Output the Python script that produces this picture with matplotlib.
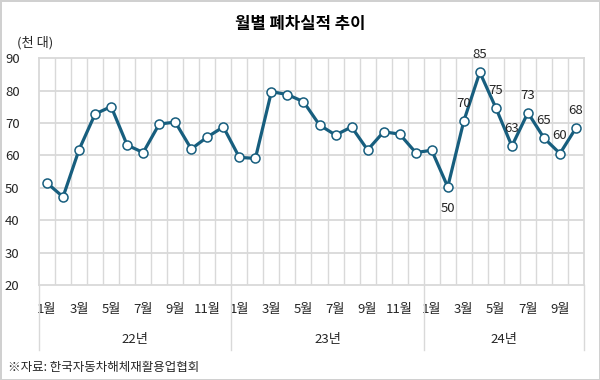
import matplotlib
matplotlib.use("Agg")
import matplotlib.pyplot as plt
import matplotlib.transforms as mtransforms
import numpy as np

plt.rcParams['font.family'] = ['Noto Sans CJK KR', 'DejaVu Sans']

# monthly scrapped vehicles (thousand units), Jan 2022 - Oct 2024
years = ["22년", "23년", "24년"]
months_per_year = [12, 12, 10]
values = [51.5, 47.2, 61.8, 72.8, 75.1, 63.2, 60.9, 69.7, 70.3, 62.0, 65.7, 68.8,
          59.4, 59.1, 79.7, 78.8, 76.6, 69.4, 66.3, 68.8, 61.7, 67.3, 66.6, 60.9,
          61.6, 50.3, 70.6, 85.7, 74.7, 62.9, 73.2, 65.4, 60.6, 68.5]
# data labels shown in the chart (index -> text)
label_idx = [25, 26, 27, 28, 29, 30, 31, 32, 33]
label_txt = ["50", "70", "85", "75", "63", "73", "65", "60", "68"]

line_color = "#175E7E"
grid_color = "#d9d9d9"
text_color = "#262626"

fig = plt.figure(figsize=(6, 3.8), dpi=100)
fig.patch.set_edgecolor("#d0d0d0")
fig.patch.set_linewidth(2)
ax = fig.add_axes([39 / 600, 1 - 285 / 380, 545 / 600, (285 - 58.3) / 380])

x = np.arange(len(values))
ax.plot(x, values, color=line_color, lw=2.3, marker="o", ms=6.5,
        mfc="white", mec=line_color, mew=1.1, zorder=3)

for i, t in zip(label_idx, label_txt):
    if t == "50":
        ax.annotate(t, (x[i], values[i]), xytext=(0, -11), textcoords="offset points",
                    ha="center", va="top", fontsize=9.5, color=text_color)
    else:
        ax.annotate(t, (x[i], values[i]), xytext=(0, 8), textcoords="offset points",
                    ha="center", va="bottom", fontsize=9.5, color=text_color)

ax.set_xlim(-0.5, len(values) - 0.5)
ax.set_ylim(20, 90)
ax.set_yticks(np.arange(20, 91, 10))
ax.tick_params(axis="y", length=0, pad=14, labelsize=9.5, labelcolor=text_color)

# month labels every other month
month_pos = []
month_lab = []
i = 0
for n in months_per_year:
    for m in range(1, n + 1):
        if m % 2 == 1:
            month_pos.append(i)
            month_lab.append(f"{m}월")
        i += 1
ax.set_xticks(month_pos)
ax.set_xticklabels(month_lab)
ax.tick_params(axis="x", length=0, pad=13, labelsize=9.5, labelcolor=text_color)

# grid
for b in np.arange(0.5, len(values) - 0.5, 1):
    ax.axvline(b, color=grid_color, lw=1, zorder=1)
for v in range(30, 90, 10):
    ax.axhline(v, color=grid_color, lw=1.3, zorder=1)
for s in ax.spines.values():
    s.set_color(grid_color)
    s.set_linewidth(1.3)

# year group separators and labels
trans = mtransforms.blended_transform_factory(ax.transData, ax.transAxes)
start = 0
bounds = [-0.5]
for n in months_per_year:
    bounds.append(start + n - 0.5)
    start += n
for b in bounds:
    ax.plot([b, b], [0, -0.287], color=grid_color, lw=1, transform=trans, clip_on=False)
for k, yr in enumerate(years):
    c = (bounds[k] + bounds[k + 1]) / 2
    ax.text(c, -0.24, yr, transform=trans, ha="center", va="center",
            fontsize=9.5, color=text_color)

fig.text(0.5, 1 - 24 / 380, "월별 폐차실적 추이", ha="center", va="center",
         fontsize=12, fontweight="bold", color="black")
fig.text(17 / 600, 1 - 43 / 380, "(천 대)", ha="left", va="center",
         fontsize=9.5, color=text_color)
fig.text(8 / 600, 1 - 368 / 380, "※자료: 한국자동차해체재활용업협회", ha="left", va="center",
         fontsize=9, color=text_color)

fig.savefig("out.png", dpi=100, edgecolor=fig.get_edgecolor())
